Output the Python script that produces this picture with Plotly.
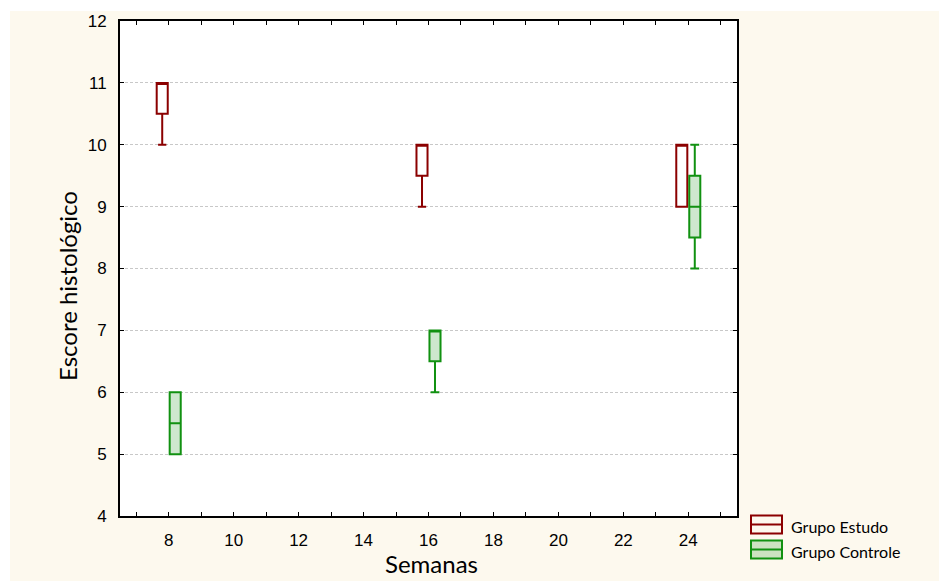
import plotly.graph_objects as go

weeks = [8, 16, 24]

estudo_min = [10, 9, 9]
estudo_q1 = [10.5, 9.5, 9]
estudo_median = [11, 10, 10]
estudo_q3 = [11, 10, 10]
estudo_max = [11, 10, 10]

controle_min = [5, 6, 8]
controle_q1 = [5, 6.5, 8.5]
controle_median = [5.5, 7, 9]
controle_q3 = [6, 7, 9.5]
controle_max = [6, 7, 10]

x_ticks = [8, 10, 12, 14, 16, 18, 20, 22, 24]
y_ticks = [4, 5, 6, 7, 8, 9, 10, 11, 12]
series_names = ["Grupo Estudo", "Grupo Controle"]

RED = "#8b0000"
GREEN = "#119111"
GREEN_FILL = "rgba(60,160,60,0.25)"
CREAM = "#fdf9ee"
TITLE_FONT = "Lato, Open Sans"

fig = go.Figure()
fig.add_trace(go.Box(
    name=series_names[0], x=weeks,
    q1=estudo_q1, median=estudo_median, q3=estudo_q3,
    lowerfence=estudo_min, upperfence=estudo_max,
    line=dict(color=RED, width=2), fillcolor="rgba(255,255,255,0)",
    whiskerwidth=0.75, hoverinfo="skip", showlegend=False,
))
fig.add_trace(go.Box(
    name=series_names[1], x=weeks,
    q1=controle_q1, median=controle_median, q3=controle_q3,
    lowerfence=controle_min, upperfence=controle_max,
    line=dict(color=GREEN, width=2), fillcolor=GREEN_FILL,
    whiskerwidth=0.8, hoverinfo="skip", showlegend=False,
))

L, R, T, B = 120, 202, 21, 65
W, H = 939, 581
pw, ph = W - L - R, H - T - B


def px(x):
    return (x - L) / pw


def py(y):
    return (T + ph - y) / ph


shapes = [
    dict(type="rect", xref="paper", yref="paper", layer="below",
         x0=px(10), x1=px(W), y0=py(H), y1=py(11),
         fillcolor=CREAM, line=dict(width=0)),
    dict(type="rect", xref="paper", yref="paper", layer="below",
         x0=0, x1=1, y0=0, y1=1,
         fillcolor="white", line=dict(width=0)),
]
annotations = [
    dict(text="Semanas", xref="paper", yref="paper", x=px(431), y=py(563),
         xanchor="center", yanchor="middle", showarrow=False,
         font=dict(family=TITLE_FONT, size=24, color="black")),
    dict(text="Escore histológico", xref="paper", yref="paper", x=px(67), y=py(286),
         xanchor="center", yanchor="middle", showarrow=False, textangle=-90,
         font=dict(family=TITLE_FONT, size=24, color="black")),
]

# custom legend
legend_items = [(series_names[0], RED, "rgba(255,255,255,0)", 524.5),
                (series_names[1], GREEN, GREEN_FILL, 549.5)]
for name, col, fill, yc in legend_items:
    shapes.append(dict(type="rect", xref="paper", yref="paper",
                       x0=px(751), x1=px(782), y0=py(yc + 9), y1=py(yc - 9),
                       fillcolor=fill, line=dict(color=col, width=2)))
    shapes.append(dict(type="line", xref="paper", yref="paper",
                       x0=px(751), x1=px(782), y0=py(yc), y1=py(yc),
                       line=dict(color=col, width=2)))
    annotations.append(dict(text=name, xref="paper", yref="paper",
                            x=px(789), y=py(yc + 1.5), xanchor="left", yanchor="middle",
                            showarrow=False,
                            font=dict(family=TITLE_FONT, size=16, color="black")))

fig.update_layout(
    width=W, height=H,
    margin=dict(l=L, r=R, t=T, b=B),
    paper_bgcolor="white", plot_bgcolor="white",
    boxmode="group", boxgap=0.9, boxgroupgap=0.15,
    font=dict(family="Liberation Sans, Arial", size=17, color="black"),
    shapes=shapes, annotations=annotations,
    showlegend=False,
    xaxis=dict(
        range=[6.5, 25.5], tickvals=x_ticks, ticks="inside", ticklen=4,
        tickcolor="black", showline=True, linecolor="black", linewidth=2,
        mirror="ticks", showgrid=False, zeroline=False,
        minor=dict(dtick=1, tick0=0, ticks="inside", ticklen=4, tickcolor="black", showgrid=False),
        ticklabelstandoff=8,
    ),
    yaxis=dict(
        range=[4, 12], tickvals=y_ticks, ticks="inside", ticklen=4,
        tickcolor="black", showline=True, linecolor="black", linewidth=2,
        mirror="ticks", showgrid=True, gridcolor="#c8c8c8", griddash="3px,2px",
        gridwidth=1, zeroline=False, ticklabelstandoff=8,
    ),
)

fig.write_html("out.html")
